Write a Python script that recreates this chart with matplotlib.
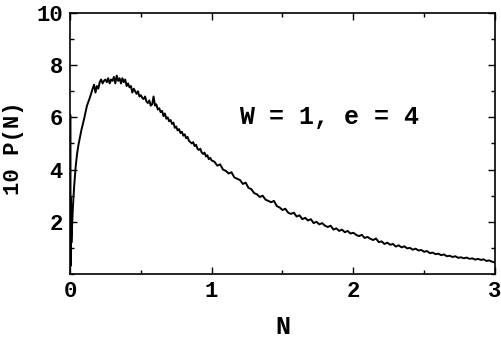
import matplotlib
matplotlib.use("Agg")
import matplotlib.pyplot as plt
from matplotlib.ticker import MultipleLocator

# curve
n_vals = [
    0.0, 0.002, 0.004, 0.007, 0.01, 0.015,
    0.02, 0.03, 0.04, 0.05, 0.06, 0.08, 0.10, 0.12, 0.14, 0.16, 0.17, 0.18, 0.19,
    0.20, 0.21, 0.22, 0.23, 0.24, 0.25, 0.26, 0.27, 0.28, 0.29,
    0.30, 0.31, 0.32, 0.33, 0.34, 0.35, 0.36, 0.37, 0.38, 0.39,
    0.40, 0.41, 0.42, 0.43, 0.44, 0.45, 0.46, 0.47, 0.48, 0.49,
    0.50, 0.51, 0.52, 0.53, 0.54, 0.55, 0.56, 0.57, 0.58, 0.59,
    0.60, 0.61, 0.62, 0.63, 0.64, 0.65, 0.66, 0.67, 0.68, 0.69,
    0.70, 0.71, 0.72, 0.73, 0.74, 0.75, 0.76, 0.77, 0.78, 0.79,
    0.80, 0.81, 0.82, 0.83, 0.84, 0.85, 0.86, 0.87, 0.88, 0.89,
    0.90, 0.91, 0.92, 0.93, 0.94, 0.95, 0.96, 0.97, 0.98, 0.99,
    1.00, 1.02, 1.04, 1.06, 1.08, 1.10, 1.12, 1.14, 1.16, 1.18,
    1.20, 1.22, 1.24, 1.26, 1.28, 1.30, 1.32, 1.34, 1.36, 1.38,
    1.40, 1.42, 1.44, 1.46, 1.48, 1.50, 1.52, 1.54, 1.56, 1.58,
    1.60, 1.62, 1.64, 1.66, 1.68, 1.70, 1.72, 1.74, 1.76, 1.78,
    1.80, 1.82, 1.84, 1.86, 1.88, 1.90, 1.92, 1.94, 1.96, 1.98,
    2.00, 2.02, 2.04, 2.06, 2.08, 2.10, 2.12, 2.14, 2.16, 2.18,
    2.20, 2.22, 2.24, 2.26, 2.28, 2.30, 2.32, 2.34, 2.36, 2.38,
    2.40, 2.42, 2.44, 2.46, 2.48, 2.50, 2.52, 2.54, 2.56, 2.58,
    2.60, 2.62, 2.64, 2.66, 2.68, 2.70, 2.72, 2.74, 2.76, 2.78,
    2.80, 2.82, 2.84, 2.86, 2.88, 2.90, 2.92, 2.94, 2.96, 2.98, 3.00,
]
p_vals = [
    0.0, 6.1, 0.3, 2.9, 1.2, 1.9,
    2.5, 3.4, 4.1, 4.6, 4.95, 5.5, 5.95, 6.45, 6.75, 7.1, 7.25, 6.95, 7.2,
    7.1, 7.35, 7.45, 7.3, 7.4, 7.45, 7.35, 7.5, 7.3, 7.45,
    7.4, 7.55, 7.3, 7.6, 7.4, 7.5, 7.3, 7.5, 7.35, 7.45,
    7.2, 7.3, 7.15, 7.2, 6.95, 7.1, 7.0, 6.9, 7.0, 6.8,
    6.85, 6.75, 6.7, 6.8, 6.6, 6.55, 6.65, 6.45, 6.5, 6.8,
    6.45, 6.5, 6.3, 6.35, 6.2, 6.25, 6.05, 6.15, 5.95, 6.0,
    5.85, 5.9, 5.75, 5.8, 5.6, 5.65, 5.5, 5.55, 5.4, 5.45,
    5.3, 5.35, 5.2, 5.25, 5.1, 5.05, 5.0, 5.05, 4.9, 4.95,
    4.8, 4.75, 4.8, 4.65, 4.6, 4.65, 4.5, 4.55, 4.4, 4.45,
    4.35, 4.3, 4.15, 4.2, 4.0, 3.95, 3.85, 3.9, 3.7, 3.65,
    3.6, 3.45, 3.5, 3.3, 3.25, 3.1, 3.05, 2.95, 3.0, 2.85,
    2.8, 2.75, 2.8, 2.6, 2.55, 2.45, 2.5, 2.35, 2.3, 2.35,
    2.2, 2.25, 2.1, 2.15, 2.05, 2.1, 1.95, 2.0, 1.9, 1.95,
    1.85, 1.8, 1.85, 1.7, 1.75, 1.65, 1.7, 1.6, 1.65, 1.55,
    1.58, 1.5, 1.45, 1.5, 1.38, 1.42, 1.35, 1.3, 1.36, 1.22,
    1.25, 1.15, 1.2, 1.12, 1.15, 1.05, 1.1, 1.02, 1.06, 0.98,
    1.0, 0.93, 0.97, 0.9, 0.92, 0.85, 0.88, 0.8, 0.82, 0.76,
    0.78, 0.72, 0.75, 0.68, 0.7, 0.65, 0.68, 0.62, 0.64, 0.6,
    0.63, 0.58, 0.6, 0.55, 0.58, 0.54, 0.56, 0.5, 0.52, 0.47, 0.44,
]

x_ticks = [0, 1, 2, 3]
y_ticks = [2, 4, 6, 8, 10]
label_text = "W = 1, e = 4"

plt.rcParams['font.family'] = ['Liberation Mono', 'DejaVu Sans Mono']
plt.rcParams['font.weight'] = 'bold'

fig = plt.figure(figsize=(5.02, 3.41), dpi=100)
ax = fig.add_axes([0.1394, 0.1965, 0.8466, 0.7655])

ax.plot(n_vals, p_vals, color='black', lw=1.4)

ax.set_xlim(0, 3)
ax.set_ylim(0, 10)
ax.set_xticks(x_ticks)
ax.set_yticks(y_ticks)
ax.xaxis.set_minor_locator(MultipleLocator(0.5))
ax.yaxis.set_minor_locator(MultipleLocator(1))
ax.tick_params(which='both', direction='in', top=True, right=True, width=1)
ax.tick_params(which='major', length=5, labelsize=16, pad=5)
ax.tick_params(which='minor', length=3)
for s in ax.spines.values():
    s.set_linewidth(1.2)

ax.text(1.19, 6.0, label_text, fontsize=18, fontweight='bold', ha='left', va='center')

ax.set_xlabel('N', fontsize=18, fontweight='bold', va='center')
ax.xaxis.set_label_coords(0.5, -0.203)
ax.set_ylabel('10 P(N)', fontsize=16, fontweight='bold', va='center')
ax.yaxis.set_label_coords(-0.134, 0.483)

fig.savefig('out.png', dpi=100)
